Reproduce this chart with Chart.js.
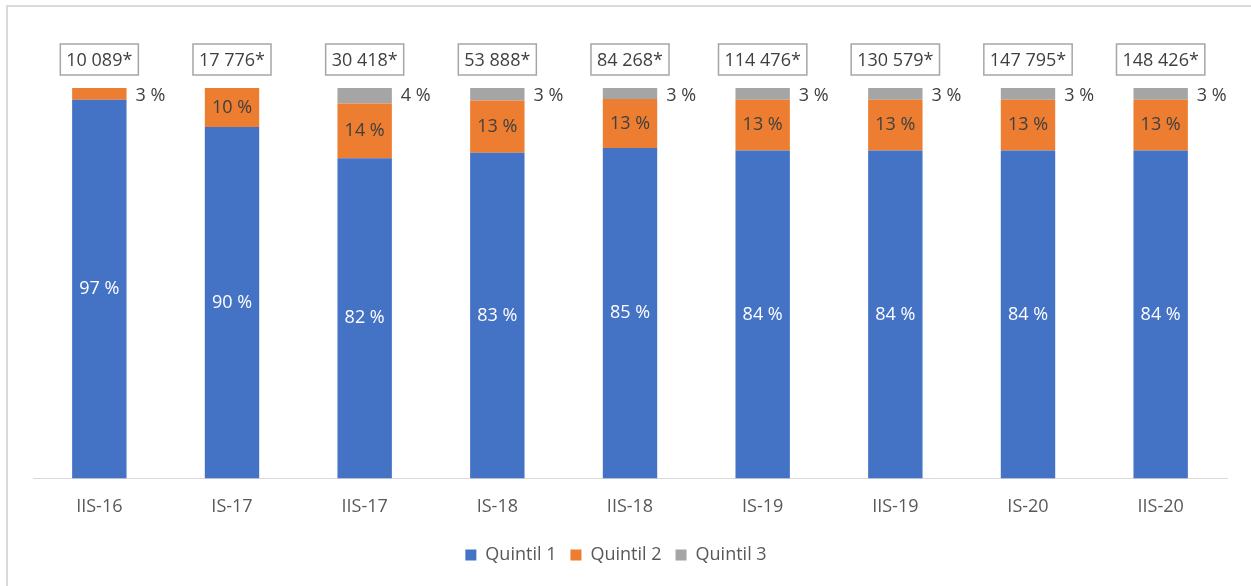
<!DOCTYPE html>
<html>
<head>
<meta charset="utf-8">
<script src="https://cdn.jsdelivr.net/npm/chart.js@4"></script>
<style>
  html, body { margin: 0; padding: 0; background: #fff; }
  #frame {
    position: absolute; left: 6px; top: 5px; width: 1300px; height: 700px;
    border-left: 2px solid #d9d9d9; border-top: 2px solid #d9d9d9;
  }
  #wrap { position: absolute; left: 0; top: 0; width: 1251px; height: 586px; }
</style>
</head>
<body>
<div id="frame"></div>
<div id="wrap"><canvas id="quintilChart" width="1251" height="586"></canvas></div>
<script>
const periods = ["IIS-16", "IS-17", "IIS-17", "IS-18", "IIS-18", "IS-19", "IIS-19", "IS-20", "IIS-20"];
const totals = ["10 089*", "17 776*", "30 418*", "53 888*", "84 268*", "114 476*", "130 579*", "147 795*", "148 426*"];
const quintil1 = [97, 90, 82, 83.4, 84.6, 84, 84, 84, 84];
const quintil2 = [3, 10, 14, 13.4, 12.6, 13, 13, 13, 13];
const quintil3 = [0, 0, 4, 3.2, 2.8, 3, 3, 3, 3];

const FONT = "'Open Sans', sans-serif";
const blue = "#4472c4";
const orange = "#ed7d31";
const gray = "#a5a5a5";

// draws the % labels and the boxed totals
const labelPlugin = {
  id: "labelPlugin",
  afterLayout(chart) {
    // legend sits a bit left of centre in the original
    if (chart.legend) {
      chart.legend.left -= 14;
      chart.legend.right -= 14;
    }
  },
  afterDatasetsDraw(chart) {
    const ctx = chart.ctx;
    ctx.save();
    ctx.font = "18px " + FONT;
    ctx.textBaseline = "middle";
    chart.data.datasets.forEach((ds, di) => {
      const meta = chart.getDatasetMeta(di);
      meta.data.forEach((bar, i) => {
        const v = ds.data[i];
        if (!v) return;
        const txt = Math.round(v) + " %";
        const mid = (bar.y + bar.base) / 2;
        if (v < 5) {
          ctx.textAlign = "left";
          ctx.fillStyle = "#404040";
          ctx.fillText(txt, bar.x + bar.width / 2 + 9, bar.y + 8);
        } else {
          ctx.textAlign = "center";
          ctx.fillStyle = di === 0 ? "#ffffff" : "#404040";
          ctx.fillText(txt, bar.x, mid);
        }
      });
    });
    // totals in boxes above bars
    const meta0 = chart.getDatasetMeta(0);
    const top = chart.chartArea.top;
    meta0.data.forEach((bar, i) => {
      const txt = totals[i];
      const w = ctx.measureText(txt).width + 12;
      const h = 31;
      const y = top - 44;
      ctx.fillStyle = "#ffffff";
      ctx.fillRect(bar.x - w / 2, y, w, h);
      ctx.strokeStyle = "#a6a6a6";
      ctx.lineWidth = 1.5;
      ctx.strokeRect(bar.x - w / 2, y, w, h);
      ctx.fillStyle = "#404040";
      ctx.textAlign = "center";
      ctx.fillText(txt, bar.x, y + h / 2 + 1);
    });
    ctx.restore();
  }
};

new Chart(document.getElementById("quintilChart").getContext("2d"), {
  type: "bar",
  data: {
    labels: periods,
    datasets: [
      { label: "Quintil 1", data: quintil1, backgroundColor: blue },
      { label: "Quintil 2", data: quintil2, backgroundColor: orange },
      { label: "Quintil 3", data: quintil3, backgroundColor: gray },
    ],
  },
  options: {
    responsive: false,
    animation: false,
    layout: { padding: { left: 33, right: 24, top: 88, bottom: 12 } },
    datasets: { bar: { barPercentage: 0.41, categoryPercentage: 1.0 } },
    scales: {
      x: {
        stacked: true,
        grid: { display: false },
        border: { color: "#d9d9d9", width: 1 },
        ticks: { color: "#595959", font: { family: FONT, size: 18 }, padding: 10 },
        afterFit(scale) { scale.height += 4; },
      },
      y: {
        stacked: true,
        display: false,
        min: 0,
        max: 100,
      },
    },
    plugins: {
      legend: {
        position: "bottom",
        labels: {
          color: "#595959",
          font: { family: FONT, size: 18 },
          boxWidth: 11,
          boxHeight: 11,
          padding: 14,
        },
      },
      tooltip: { enabled: false },
    },
  },
  plugins: [labelPlugin],
});
</script>
</body>
</html>
